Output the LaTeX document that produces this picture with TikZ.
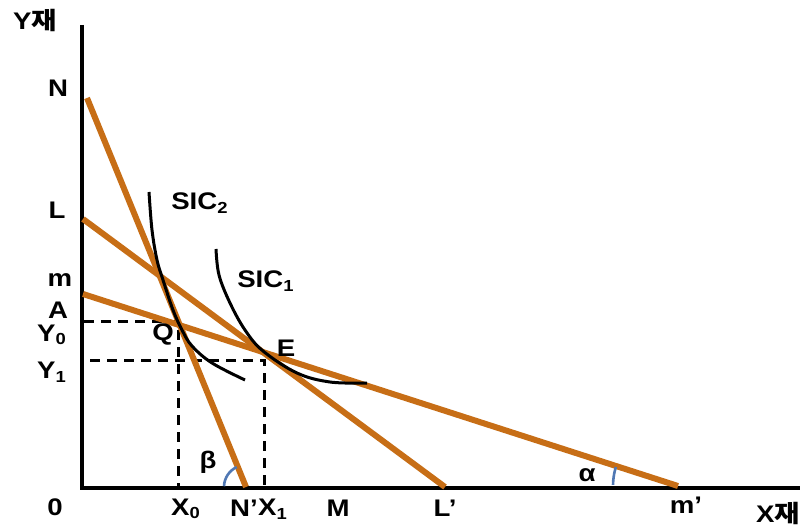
\documentclass[tikz,border=0pt]{standalone}
\usepackage{fontspec}
\setmainfont{Liberation Sans}
\newfontfamily\krfont{Noto Sans CJK KR}
\definecolor{budget}{RGB}{199,110,22}
\definecolor{arcblue}{RGB}{80,120,180}
\newcommand{\wide}[1]{\scalebox{1.15}[1]{#1}}
\begin{document}
\begin{tikzpicture}[x=0.5pt,y=-0.5pt,
  lbl/.style={font=\fontsize{12}{14}\selectfont\bfseries, inner sep=0pt},
  axisline/.style={line width=1.6pt, black},
  budgetline/.style={line width=3pt, budget},
  sic/.style={line width=1.5pt, black},
  guide/.style={line width=1.5pt, black, dash pattern=on 5pt off 3.5pt},
  anglearc/.style={line width=1.3pt, arcblue}]
\useasboundingbox (0,0) rectangle (806,528);
% axes
\coordinate (O) at (82,488);
\coordinate (Ytop) at (82,25);
\coordinate (Xend) at (800,488);
\draw[axisline] (Ytop) -- (O) -- (Xend);
% budget lines
\coordinate (N) at (87,98);
\coordinate (Np) at (246,487);
\coordinate (L) at (83,219);
\coordinate (Lp) at (445,487);
\coordinate (m) at (83,294);
\coordinate (mp) at (678,486);
% guides
\coordinate (Q) at (178,322);
\coordinate (E) at (264,360);
\coordinate (Y0s) at (84,322);
\coordinate (Y1s) at (90,360);
\coordinate (X0b) at (178,487);
\coordinate (X1b) at (264,487);
\draw[guide] (Y0s) -- (Q) -- (X0b);
\draw[guide] (Y1s) -- (E) -- (X1b);
\draw[budgetline] (N) -- (Np);
\draw[budgetline] (L) -- (Lp);
\draw[budgetline] (m) -- (mp);
% indifference curves
\draw[sic] plot[smooth, tension=0.6] coordinates {(149,192) (152,230) (157,260) (163,280) (173,310) (182,330) (192,346) (212,363) (245,380)};
\draw[sic] plot[smooth, tension=0.6] coordinates {(216,249) (219,275) (230,303) (245,330) (263,351) (297,373) (330,382) (367,383)};
% angle arcs (y axis is flipped: visual angle t is tikz angle -t)
\draw[anglearc] (Np) ++(-115:22) arc[start angle=-115, end angle=-178, radius=22];
\draw[anglearc] (mp) ++(-163:65) arc[start angle=-163, end angle=-179, radius=65];
% labels
\node[lbl] (ylab) at (35,21) {\wide{Y{\krfont 재}}};
\node[lbl] (xlab) at (778,513) {\wide{X{\krfont 재}}};
\node[lbl] (lN) at (58,88) {\wide{N}};
\node[lbl] (lL) at (57,210) {\wide{L}};
\node[lbl] (lm) at (60,280) {\wide{m}};
\node[lbl] (lA) at (58,310) {\wide{A}};
\node[lbl] (lY0) at (52,335) {\wide{Y\textsubscript{0}}};
\node[lbl] (lY1) at (52,372) {\wide{Y\textsubscript{1}}};
\node[lbl] (lQ) at (163,334) {\wide{Q}};
\node[lbl] (lE) at (286,348) {\wide{E}};
\node[lbl] (lS2) at (200,203) {\wide{SIC\textsubscript{2}}};
\node[lbl] (lS1) at (266,281) {\wide{SIC\textsubscript{1}}};
\node[lbl] (lb) at (208,462) {\wide{β}};
\node[lbl] (la) at (587,475) {\wide{α}};
\node[lbl] (l0) at (55,507) {\wide{0}};
\node[lbl] (lX0) at (186,509) {\wide{X\textsubscript{0}}};
\node[lbl] (lNp) at (244,508) {\wide{N'}};
\node[lbl] (lX1) at (273,509) {\wide{X\textsubscript{1}}};
\node[lbl] (lM) at (338,508) {\wide{M}};
\node[lbl] (lLp) at (445,508) {\wide{L'}};
\node[lbl] (lmp) at (686,505) {\wide{m'}};
\end{tikzpicture}
\end{document}
